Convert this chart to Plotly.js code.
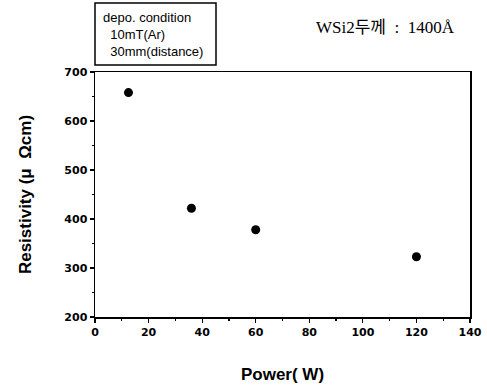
<!DOCTYPE html>
<html>
<head>
<meta charset="utf-8">
<script src="https://cdn.plot.ly/plotly-3.0.1.min.js"></script>
<style>
  html, body { margin: 0; padding: 0; background: #fff; }
  #chart { width: 487px; height: 387px; }
</style>
</head>
<body>
<div id="chart"></div>
<script>
// Sputtering power vs. film resistivity
const powerW = [12.5, 36, 60, 120];
const resistivity = [658, 422, 378, 323];
const xTickVals = [0, 20, 40, 60, 80, 100, 120, 140];
const yTickVals = [200, 300, 400, 500, 600, 700];
const conditionLines = ['depo. condition', '&nbsp;&nbsp;10mT(Ar)', '&nbsp;&nbsp;30mm(distance)'];
const thicknessNote = 'WSi2두께&nbsp;&nbsp;:&nbsp;&nbsp;1400Å';

const tickFont = { family: 'DejaVu Sans, sans-serif', size: 11, color: '#000', weight: 'bold' };
const titleFont = { family: 'Liberation Sans, Arial, sans-serif', size: 17, color: '#000', weight: 'bold' };

const trace = {
  x: powerW,
  y: resistivity,
  type: 'scatter',
  mode: 'markers',
  marker: { color: '#000', size: 9 },
  hoverinfo: 'skip'
};

const axisCommon = {
  showgrid: false,
  zeroline: false,
  showline: true,
  mirror: true,
  linecolor: '#000',
  linewidth: 1.5,
  ticks: 'outside',
  ticklen: 4,
  tickwidth: 1.2,
  tickcolor: '#000',
  tickfont: tickFont
};

const layout = {
  width: 487,
  height: 387,
  margin: { l: 95, r: 17, t: 72, b: 70 },
  paper_bgcolor: '#fff',
  plot_bgcolor: '#fff',
  showlegend: false,
  xaxis: Object.assign({}, axisCommon, {
    range: [0, 140],
    tickvals: xTickVals,
    minor: { dtick: 10, ticks: 'outside', ticklen: 2, tickcolor: '#000' },
    title: { text: 'Power( W)', font: titleFont, standoff: 30 }
  }),
  yaxis: Object.assign({}, axisCommon, {
    range: [200, 700],
    tickvals: yTickVals,
    minor: { dtick: 50, ticks: 'outside', ticklen: 2, tickcolor: '#000' },
    title: { text: 'Resistivity (μ&nbsp;&nbsp;Ωcm)', font: titleFont, standoff: 28 }
  }),
  shapes: [{
    type: 'rect', xref: 'paper', yref: 'paper',
    x0: 0, x1: 121 / 375, y0: 1 + 7 / 245, y1: 1 + 69 / 245,
    line: { color: '#000', width: 1.5 }, fillcolor: 'rgba(0,0,0,0)'
  }],
  annotations: [
    {
      xref: 'paper', yref: 'paper', x: 6 / 375, y: 1 + 64 / 245,
      xanchor: 'left', yanchor: 'top', align: 'left', showarrow: false,
      text: conditionLines.join('<br>'),
      font: { family: 'Liberation Sans, Arial, sans-serif', size: 13, color: '#000' }
    },
    {
      xref: 'paper', yref: 'paper', x: (457 - 95) / 375, y: 1 + 45 / 245,
      xanchor: 'right', yanchor: 'middle', showarrow: false,
      text: thicknessNote,
      font: { family: 'Liberation Serif, Noto Sans CJK KR, serif', size: 17, color: '#000' }
    }
  ]
};

Plotly.newPlot('chart', [trace], layout, { displayModeBar: false, staticPlot: true });
</script>
</body>
</html>
